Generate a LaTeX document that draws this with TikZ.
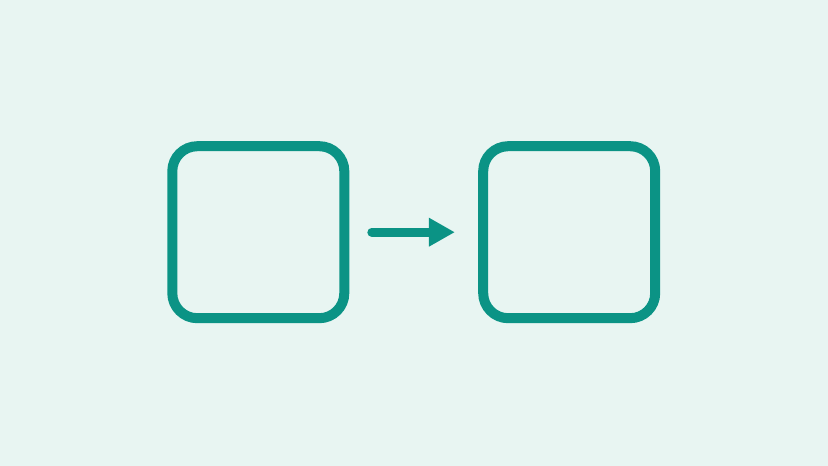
\documentclass[tikz,border=0pt]{standalone}
\usetikzlibrary{arrows.meta}
\definecolor{tealline}{HTML}{0B9385}
\definecolor{paleback}{HTML}{E8F5F2}

\begin{document}
\begin{tikzpicture}[x=1pt, y=-1pt,
    box/.style={draw=tealline, line width=10pt, rounded corners=25pt, minimum size=172pt, inner sep=0pt},
    link/.style={draw=tealline, line width=9pt, line cap=round, -{Triangle[length=26pt, width=27pt]}, tealline}]
    \fill[paleback] (0, 0) rectangle (828, 466);
    \useasboundingbox (0, 0) rectangle (828, 466);

    \node[box] (src) at (258.3, 232.2) {};
    \node[box] (dst) at (569.2, 232.2) {};

    \draw[link, shorten <=22.5pt, shorten >=23.3pt] (src.east) -- (dst.west);
\end{tikzpicture}
\end{document}
